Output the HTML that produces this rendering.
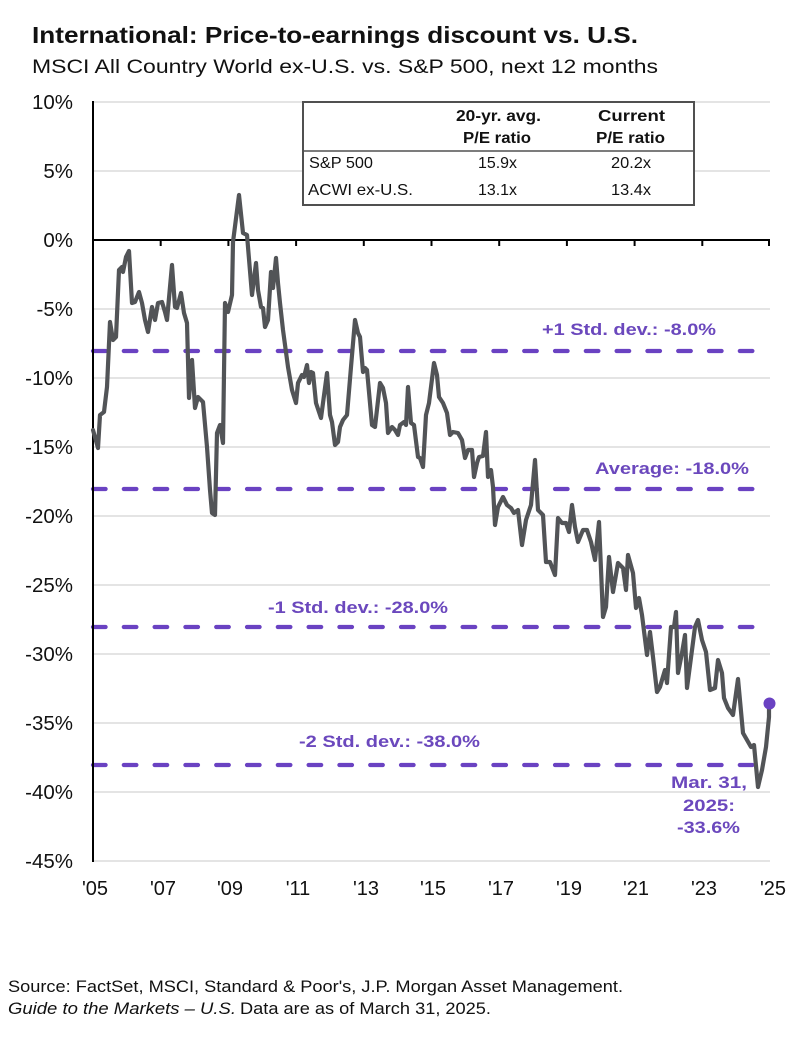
<!DOCTYPE html>
<html><head><meta charset="utf-8"><style>
html,body{margin:0;padding:0;background:#fff;}
svg{display:block;}
text{font-family:"Liberation Sans",Arial,sans-serif;}
</style></head><body>
<svg width="800" height="1042" viewBox="0 0 800 1042" xmlns="http://www.w3.org/2000/svg">
<rect width="800" height="1042" fill="#fff"/>
<!-- Title -->
<text x="32" y="43" font-size="23" font-weight="bold" fill="#111" textLength="606" lengthAdjust="spacingAndGlyphs">International: Price-to-earnings discount vs. U.S.</text>
<text x="32" y="73" font-size="19" fill="#111" textLength="626" lengthAdjust="spacingAndGlyphs">MSCI All Country World ex-U.S. vs. S&amp;P 500, next 12 months</text>

<!-- gridlines -->
<g stroke="#d4d4d4" stroke-width="1.3">
<line x1="93" y1="102" x2="770" y2="102"/>
<line x1="93" y1="171" x2="770" y2="171"/>
<line x1="93" y1="309" x2="770" y2="309"/>
<line x1="93" y1="378" x2="770" y2="378"/>
<line x1="93" y1="447" x2="770" y2="447"/>
<line x1="93" y1="516" x2="770" y2="516"/>
<line x1="93" y1="585" x2="770" y2="585"/>
<line x1="93" y1="654" x2="770" y2="654"/>
<line x1="93" y1="723" x2="770" y2="723"/>
<line x1="93" y1="792" x2="770" y2="792"/>
<line x1="93" y1="861" x2="770" y2="861"/>
</g>

<!-- y labels -->
<g font-size="20.5" fill="#111" text-anchor="end">
<text x="73" y="109">10%</text>
<text x="73" y="178">5%</text>
<text x="73" y="247">0%</text>
<text x="73" y="316">-5%</text>
<text x="73" y="385">-10%</text>
<text x="73" y="454">-15%</text>
<text x="73" y="523">-20%</text>
<text x="73" y="592">-25%</text>
<text x="73" y="661">-30%</text>
<text x="73" y="730">-35%</text>
<text x="73" y="799">-40%</text>
<text x="73" y="868">-45%</text>
</g>

<!-- x labels -->
<g font-size="20" fill="#111" text-anchor="middle">
<text x="95" y="895">'05</text>
<text x="163" y="895">'07</text>
<text x="230" y="895">'09</text>
<text x="298" y="895">'11</text>
<text x="366" y="895">'13</text>
<text x="433" y="895">'15</text>
<text x="501" y="895">'17</text>
<text x="569" y="895">'19</text>
<text x="636" y="895">'21</text>
<text x="704" y="895">'23</text>
<text x="773" y="895">'25</text>
</g>

<!-- Table -->
<rect x="303" y="102" width="391" height="103" fill="#fff" stroke="#505050" stroke-width="2"/>
<line x1="303" y1="151" x2="694" y2="151" stroke="#505050" stroke-width="1.6"/>
<g font-size="16" font-weight="bold" fill="#111">
<text x="456" y="121" textLength="85" lengthAdjust="spacingAndGlyphs">20-yr. avg.</text>
<text x="463" y="143" textLength="68" lengthAdjust="spacingAndGlyphs">P/E ratio</text>
<text x="598" y="121" textLength="67" lengthAdjust="spacingAndGlyphs">Current</text>
<text x="596" y="143" textLength="69" lengthAdjust="spacingAndGlyphs">P/E ratio</text>
</g>
<g font-size="16" fill="#111">
<text x="309" y="168" textLength="64" lengthAdjust="spacingAndGlyphs">S&amp;P 500</text>
<text x="308" y="195" textLength="105" lengthAdjust="spacingAndGlyphs">ACWI ex-U.S.</text>
<text x="478" y="168" textLength="39" lengthAdjust="spacingAndGlyphs">15.9x</text>
<text x="478" y="195" textLength="39" lengthAdjust="spacingAndGlyphs">13.1x</text>
<text x="611" y="168" textLength="40" lengthAdjust="spacingAndGlyphs">20.2x</text>
<text x="611" y="195" textLength="40" lengthAdjust="spacingAndGlyphs">13.4x</text>
</g>

<!-- dashed lines -->
<g stroke="#6a42c2" stroke-width="4.2" stroke-linecap="round" stroke-dasharray="12.6 18.2" fill="none">
<line x1="93" y1="351" x2="769" y2="351"/>
<line x1="93" y1="489" x2="769" y2="489"/>
<line x1="93" y1="627" x2="769" y2="627"/>
<line x1="93" y1="765" x2="769" y2="765"/>
</g>

<!-- axes -->
<line x1="93" y1="101" x2="93" y2="862" stroke="#000" stroke-width="2"/>
<line x1="92" y1="240" x2="770" y2="240" stroke="#000" stroke-width="2"/>
<g stroke="#000" stroke-width="2">
<line x1="160.7" y1="240" x2="160.7" y2="246"/>
<line x1="228.4" y1="240" x2="228.4" y2="246"/>
<line x1="296.1" y1="240" x2="296.1" y2="246"/>
<line x1="363.8" y1="240" x2="363.8" y2="246"/>
<line x1="431.5" y1="240" x2="431.5" y2="246"/>
<line x1="499.2" y1="240" x2="499.2" y2="246"/>
<line x1="566.9" y1="240" x2="566.9" y2="246"/>
<line x1="634.6" y1="240" x2="634.6" y2="246"/>
<line x1="702.3" y1="240" x2="702.3" y2="246"/>
<line x1="769" y1="240" x2="769" y2="246"/>
</g>

<!-- std labels -->
<g font-size="17" font-weight="bold" fill="#6b48bd">
<text x="542" y="335" textLength="174" lengthAdjust="spacingAndGlyphs">+1 Std. dev.: -8.0%</text>
<text x="595" y="474" textLength="154" lengthAdjust="spacingAndGlyphs">Average: -18.0%</text>
<text x="268" y="613" textLength="180" lengthAdjust="spacingAndGlyphs">-1 Std. dev.: -28.0%</text>
<text x="299" y="747" textLength="181" lengthAdjust="spacingAndGlyphs">-2 Std. dev.: -38.0%</text>
<text x="671" y="788" textLength="76" lengthAdjust="spacingAndGlyphs">Mar. 31,</text>
<text x="683" y="811" textLength="52" lengthAdjust="spacingAndGlyphs">2025:</text>
<text x="677" y="833" textLength="63" lengthAdjust="spacingAndGlyphs">-33.6%</text>
</g>

<!-- series -->
<polyline fill="none" stroke="#525457" stroke-width="4.2" stroke-linejoin="round" stroke-linecap="round" points="
93,430 98,448 100,415 104,412 107,387 110,322 113,340 116,337 119,270 122,267 123,272 126,257 129,251 132,303 135,302 139,292 142,303 145,320 148,332 152,307 155,320 158,303 162,302 165,312 167,320 172,265 175,307 177,308 181,293 184,313 187,323 189,398 192,360 195,408 198,397 203,402 207,447 210,490 212,513 215,515 217,433 220,425 223,443 225,303 228,312 232,295 233,242 239,195 243,233 247,235 252,295 256,263 258,290 261,307 263,308 265,327 268,320 271,272 273,288 276,258 278,283 280,303 283,330 288,367 292,390 296,403 298,383 302,375 304,377 307,365 309,383 311,372 313,373 316,403 321,418 323,403 327,373 330,415 332,422 335,445 338,442 340,427 343,420 347,415 351,367 355,320 358,333 360,337 363,372 365,368 367,370 372,425 375,427 380,383 383,388 386,403 388,433 392,427 395,430 398,435 400,425 404,422 406,425 408,387 411,423 414,425 418,457 420,458 423,467 426,415 429,403 434,363 437,375 439,397 443,403 447,413 450,435 453,432 458,433 462,440 465,458 468,450 472,450 474,477 477,463 479,457 483,456 486,432 488,477 491,470 493,487 495,525 498,507 503,497 507,505 511,508 514,513 518,510 522,545 526,520 531,505 535,460 538,510 543,515 546,562 550,562 555,575 558,518 562,523 566,523 569,532 572,505 575,527 578,542 583,530 587,530 591,542 595,560 599,522 603,617 606,607 609,557 613,592 618,563 623,568 626,590 628,555 633,573 636,608 639,598 642,615 647,655 650,632 653,657 657,692 660,687 662,680 665,670 667,683 671,627 674,627 676,612 678,673 682,653 685,635 687,688 692,650 695,627 698,620 702,640 706,652 710,690 715,688 718,660 722,673 724,698 728,708 733,715 738,679 743,733 747,740 751,747 754,745 758,787 762,770 766,747 769,717 769,704"/>
<circle cx="769.5" cy="703.5" r="6" fill="#6a42c2"/>

<!-- source -->
<text x="8" y="992" font-size="16.5" fill="#111" textLength="615" lengthAdjust="spacingAndGlyphs">Source: FactSet, MSCI, Standard &amp; Poor's, J.P. Morgan Asset Management.</text>
<text x="8" y="1014" font-size="16.5" font-style="italic" fill="#111" textLength="228" lengthAdjust="spacingAndGlyphs">Guide to the Markets – U.S.</text>
<text x="240" y="1014" font-size="16.5" fill="#111" textLength="251" lengthAdjust="spacingAndGlyphs">Data are as of March 31, 2025.</text>
</svg>
</body></html>
